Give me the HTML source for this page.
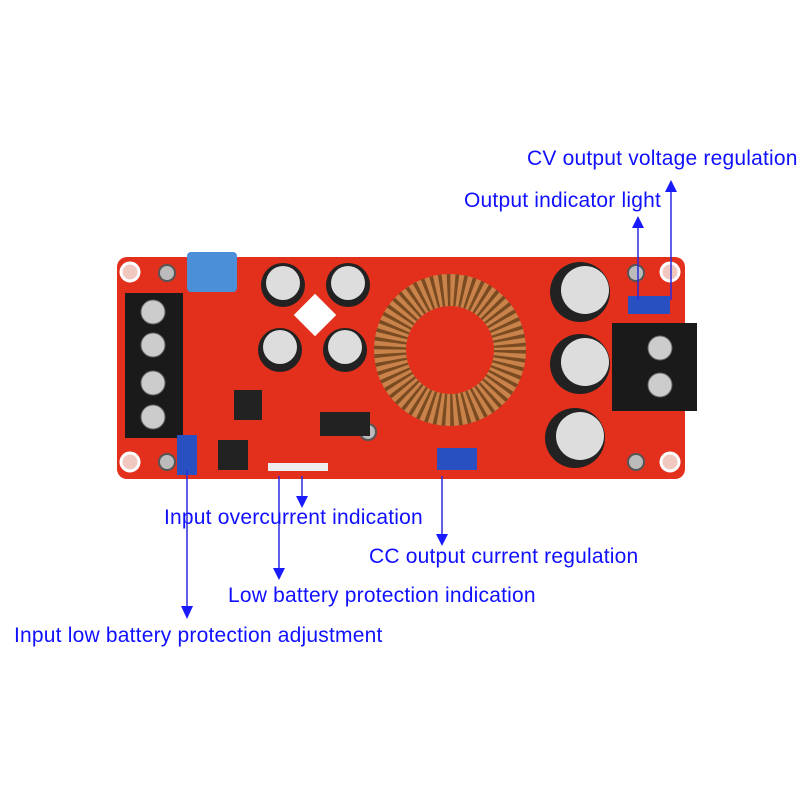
<!DOCTYPE html>
<html><head><style>
body{margin:0;background:#fff}
svg{display:block}
text{font-family:"Liberation Sans",sans-serif;fill:#1010ff;font-size:21px;letter-spacing:0.2px}
</style></head><body>
<svg width="800" height="800" viewBox="0 0 800 800">
<rect x="117" y="257" width="568" height="222" rx="10" fill="#e2301c"/>
<g fill="#f0c8c0" stroke="#fff" stroke-width="3">
<circle cx="130" cy="272" r="9"/><circle cx="130" cy="462" r="9"/>
<circle cx="670" cy="272" r="9"/><circle cx="670" cy="462" r="9"/>
</g>
<g fill="#bbb" stroke="#555" stroke-width="2">
<circle cx="167" cy="273" r="8"/><circle cx="167" cy="462" r="8"/>
<circle cx="636" cy="273" r="8"/><circle cx="636" cy="462" r="8"/><circle cx="368" cy="432" r="8"/>
</g>
<rect x="125" y="293" width="58" height="145" fill="#1a1a1a"/>
<g fill="#ccc" stroke="#666"><circle cx="153" cy="312" r="12"/><circle cx="153" cy="345" r="12"/><circle cx="153" cy="383" r="12"/><circle cx="153" cy="417" r="12"/></g>
<rect x="187" y="252" width="50" height="40" rx="4" fill="#4a8fd8"/>
<g><circle cx="283" cy="285" r="22" fill="#222"/><circle cx="283" cy="283" r="17" fill="#ddd"/>
<circle cx="348" cy="285" r="22" fill="#222"/><circle cx="348" cy="283" r="17" fill="#ddd"/>
<circle cx="280" cy="350" r="22" fill="#222"/><circle cx="280" cy="347" r="17" fill="#ddd"/>
<circle cx="345" cy="350" r="22" fill="#222"/><circle cx="345" cy="347" r="17" fill="#ddd"/>
<rect x="300" y="300" width="30" height="30" fill="#fff" transform="rotate(45 315 315)"/></g>
<circle cx="450" cy="350" r="60" fill="none" stroke="#c8824a" stroke-width="32"/>
<circle cx="450" cy="350" r="60" fill="none" stroke="#7a4a20" stroke-width="32" stroke-dasharray="3 4"/>
<g><circle cx="580" cy="292" r="30" fill="#222"/><circle cx="585" cy="290" r="24" fill="#ddd"/>
<circle cx="580" cy="364" r="30" fill="#222"/><circle cx="585" cy="362" r="24" fill="#ddd"/>
<circle cx="575" cy="438" r="30" fill="#222"/><circle cx="580" cy="436" r="24" fill="#ddd"/></g>
<rect x="612" y="323" width="85" height="88" fill="#1a1a1a"/>
<g fill="#ccc" stroke="#666"><circle cx="660" cy="348" r="12"/><circle cx="660" cy="385" r="12"/></g>
<rect x="628" y="296" width="42" height="18" fill="#2850c0"/>
<rect x="177" y="435" width="20" height="40" fill="#2850c0"/>
<rect x="437" y="448" width="40" height="22" fill="#2850c0"/>
<rect x="234" y="390" width="28" height="30" fill="#222"/>
<rect x="320" y="412" width="50" height="24" fill="#222"/>
<rect x="218" y="440" width="30" height="30" fill="#222"/>
<rect x="268" y="463" width="60" height="8" fill="#eee"/>
<g stroke="#2a2ae0" stroke-width="1.5">
<line x1="671" y1="300" x2="671" y2="190"/><line x1="638" y1="300" x2="638" y2="226"/>
<line x1="302" y1="476" x2="302" y2="498"/><line x1="279" y1="476" x2="279" y2="570"/>
<line x1="187" y1="470" x2="187" y2="608"/><line x1="442" y1="476" x2="442" y2="536"/>
</g>
<g fill="#1a1aff">
<polygon points="671,180 665,192 677,192"/><polygon points="638,216 632,228 644,228"/>
<polygon points="302,508 296,496 308,496"/><polygon points="279,580 273,568 285,568"/>
<polygon points="187,619 181,606 193,606"/><polygon points="442,546 436,534 448,534"/>
</g>
<text x="527" y="165">CV output voltage regulation</text>
<text x="464" y="207">Output indicator light</text>
<text x="164" y="524">Input overcurrent indication</text>
<text x="369" y="563">CC output current regulation</text>
<text x="228" y="602">Low battery protection indication</text>
<text x="14" y="642">Input low battery protection adjustment</text>
</svg>
</body></html>
